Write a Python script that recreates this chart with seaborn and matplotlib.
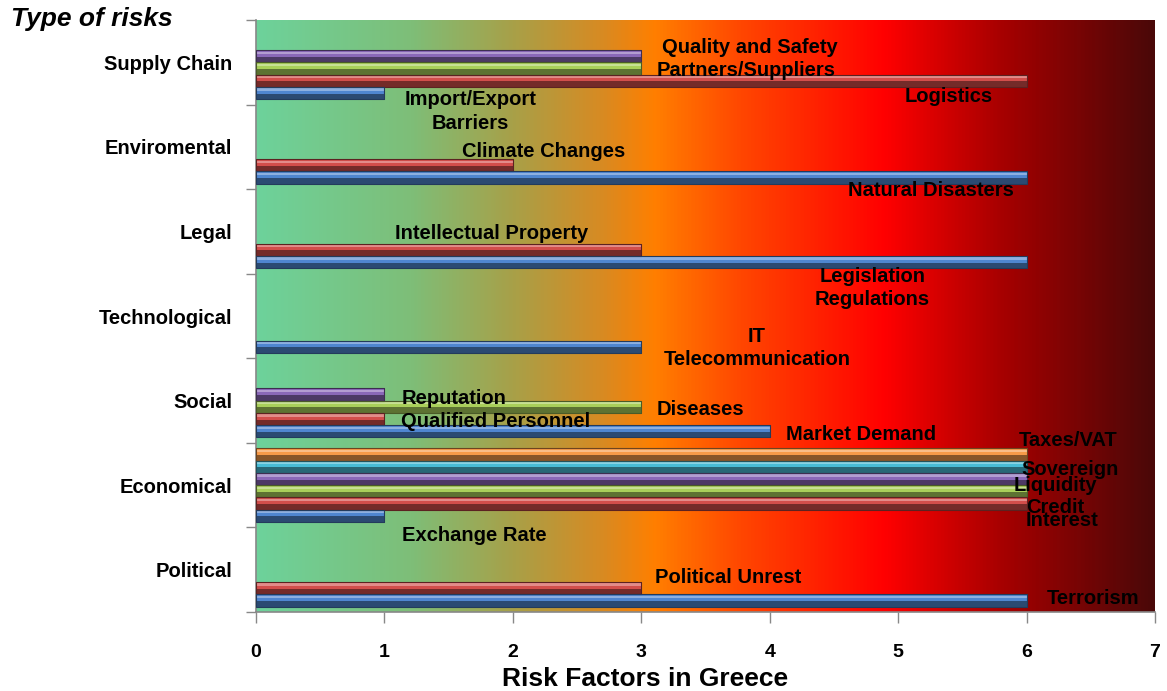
import numpy as np
import pandas as pd
import matplotlib
matplotlib.use('Agg')
import matplotlib.pyplot as plt
from matplotlib.colors import LinearSegmentedColormap, to_rgb
from matplotlib.patches import Rectangle
import seaborn as sns

# -- Data --------------------------------------------------------------------
categories = ['Supply Chain', 'Enviromental', 'Legal', 'Technological',
              'Social', 'Economical', 'Political']

risk_type = (['Supply Chain'] * 4 + ['Enviromental'] * 2 + ['Legal'] * 2 +
             ['Technological'] + ['Social'] * 4 + ['Economical'] * 6 +
             ['Political'] * 2)
factor = ['Import/Export\nBarriers', 'Logistics', 'Partners/Suppliers', 'Quality and Safety',
          'Natural Disasters', 'Climate Changes',
          'Legislation\nRegulations', 'Intellectual Property',
          'IT\nTelecommunication',
          'Market Demand', 'Qualified Personnel', 'Diseases', 'Reputation',
          'Exchange Rate', 'Interest', 'Credit', 'Liquidity', 'Sovereign', 'Taxes/VAT',
          'Terrorism', 'Political Unrest']
value = [1, 6, 3, 3,
         6, 2,
         6, 3,
         3,
         4, 1, 3, 1,
         1, 6, 6, 6, 6, 6,
         6, 3]
series = ['S1', 'S2', 'S3', 'S4',
          'S1', 'S2',
          'S1', 'S2',
          'S1',
          'S1', 'S2', 'S3', 'S4',
          'S1', 'S2', 'S3', 'S4', 'S5', 'S6',
          'S1', 'S2']

df = pd.DataFrame({'risk': risk_type, 'factor': factor,
                   'value': value, 'series': series})

# -- Styles ------------------------------------------------------------------
palette = {'S1': '#4F86D0', 'S2': '#D24E4B', 'S3': '#A9CF5A',
           'S4': '#8A68B8', 'S5': '#48BCD6', 'S6': '#F79A48'}
hue_order = ['S6', 'S5', 'S4', 'S3', 'S2', 'S1']   # S1 sits at the bottom

# label placement (x, y in data units, horizontal alignment) per factor
label_pos = {
    'Quality and Safety':        (3.16, -0.18, 'left'),
    'Partners/Suppliers':        (3.12, 0.10, 'left'),
    'Logistics':                 (5.05, 0.41, 'left'),
    'Import/Export\nBarriers':   (1.67, 0.58, 'center'),
    'Climate Changes':           (1.60, 1.06, 'left'),
    'Natural Disasters':         (4.61, 1.52, 'left'),
    'Intellectual Property':     (1.08, 2.02, 'left'),
    'Legislation\nRegulations':  (4.80, 2.67, 'center'),
    'IT\nTelecommunication':     (3.90, 3.38, 'center'),
    'Reputation':                (1.13, 3.97, 'left'),
    'Diseases':                  (3.12, 4.11, 'left'),
    'Qualified Personnel':       (1.13, 4.25, 'left'),
    'Market Demand':             (4.13, 4.40, 'left'),
    'Taxes/VAT':                 (5.94, 4.47, 'left'),
    'Sovereign':                 (5.96, 4.81, 'left'),
    'Liquidity':                 (5.90, 5.00, 'left'),
    'Credit':                    (6.00, 5.26, 'left'),
    'Interest':                  (5.99, 5.42, 'left'),
    'Exchange Rate':             (1.14, 5.60, 'left'),
    'Political Unrest':          (3.11, 6.09, 'left'),
    'Terrorism':                 (6.16, 6.34, 'left'),
}

sns.set_theme(style='white')
plt.rcParams['font.family'] = ['Liberation Sans', 'DejaVu Sans']
plt.rcParams['text.color'] = 'black'

fig = plt.figure(figsize=(11.67, 6.91), dpi=100)
ax = fig.add_axes([0.2194, 0.1143, 0.7703, 0.8567])

# background gradient green -> orange -> red -> dark red
grad_cmap = LinearSegmentedColormap.from_list('risk', [
    (0.0, '#6DD29B'), (1.2 / 7, '#7EBE78'), (2.0 / 7, '#A8A048'),
    (2.7 / 7, '#D88A22'), (3.1 / 7, '#FF7F00'), (3.8 / 7, '#FF4500'),
    (4.9 / 7, '#FF0000'), (5.8 / 7, '#A80000'), (1.0, '#4A0808')])
ax.imshow(np.linspace(0, 1, 512).reshape(1, -1), cmap=grad_cmap,
          extent=[0, 7, 6.5, -0.5], aspect='auto', zorder=0)

sns.barplot(data=df, x='value', y='risk', hue='series', order=categories,
            hue_order=hue_order, palette=palette, orient='h', width=0.87,
            dodge=True, saturation=1, legend=False, errorbar=None,
            edgecolor='#2A2A3A', linewidth=0.6, ax=ax, zorder=2)

# bevel look: light strip on top, darker lower half
for p in list(ax.patches):
    w = p.get_width()
    if w <= 0:
        continue
    x0, y0, h = p.get_x(), p.get_y(), p.get_height()
    base = np.array(to_rgb(p.get_facecolor()))
    light = base + (1 - base) * 0.35
    dark = base * 0.55
    ax.add_patch(Rectangle((x0, y0 + h * 0.55), w, h * 0.45, facecolor=dark,
                           edgecolor='none', zorder=2.5))
    ax.add_patch(Rectangle((x0, y0 + h * 0.12), w, h * 0.18, facecolor=light,
                           edgecolor='none', zorder=2.5))
    ax.add_patch(Rectangle((x0, y0), w, h, facecolor='none',
                           edgecolor=dark * 0.8, linewidth=0.8, zorder=2.6))

for f in factor:
    x, y, ha = label_pos[f]
    ax.text(x, y, f, ha=ha, va='center', fontsize=14.5, fontweight='bold',
            color='black', linespacing=1.3, zorder=4)

ax.set_xlim(0, 7)
ax.set_ylim(6.5, -0.5)
ax.set_xticks(range(8))
ax.set_xticklabels([str(i) for i in range(8)], fontsize=14, fontweight='bold',
                   color='black')
ax.set_yticks(range(len(categories)))
ax.set_yticklabels(categories, fontsize=14.5, fontweight='bold', color='black')
ax.set_yticks(np.arange(-0.5, 7, 1), minor=True)
ax.tick_params(axis='y', which='major', length=0, pad=17)
ax.tick_params(axis='y', which='minor', length=7, color='#888888', width=1, direction='out', left=True)
ax.tick_params(axis='x', length=8, color='#888888', width=1, direction='out', pad=15, bottom=True)
ax.set_xlabel('Risk Factors in Greece', fontsize=19, fontweight='bold',
              color='black')
ax.xaxis.set_label_coords(0.433, -0.093)
ax.set_ylabel('')

for side in ['top', 'right']:
    ax.spines[side].set_visible(False)
for side in ['left', 'bottom']:
    ax.spines[side].set_color('#888888')
    ax.spines[side].set_linewidth(1.2)

fig.text(0.009, 0.972, 'Type of risks', fontsize=19, fontweight='bold',
         fontstyle='italic', ha='left', va='center')

fig.savefig('out.png', dpi=100)
